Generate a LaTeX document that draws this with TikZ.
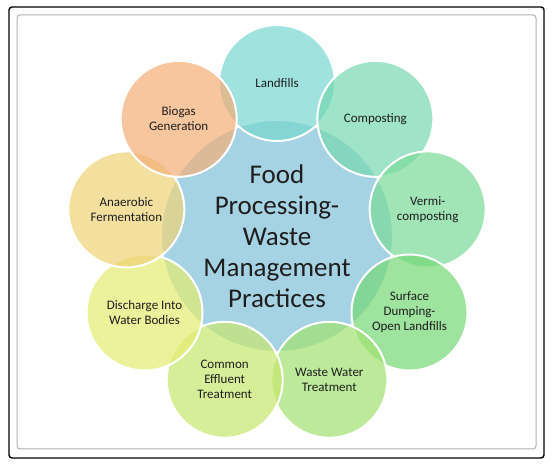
\documentclass[tikz,border=0pt]{standalone}
\usepackage{fontspec}
\setmainfont{Carlito}
\definecolor{hubfill}{RGB}{166,211,227}
\definecolor{landfillfill}{RGB}{119,214,208}
\definecolor{compostfill}{RGB}{119,216,177}
\definecolor{vermifill}{RGB}{122,219,153}
\definecolor{surfacefill}{RGB}{117,216,117}
\definecolor{wastewaterfill}{RGB}{162,226,112}
\definecolor{effluentfill}{RGB}{199,231,111}
\definecolor{dischargefill}{RGB}{228,236,113}
\definecolor{anaerobicfill}{RGB}{239,211,119}
\definecolor{biogasfill}{RGB}{244,174,119}
\definecolor{labeltext}{RGB}{30,30,30}

\begin{document}
\begin{tikzpicture}[x=1pt,y=1pt]
\tikzstyle{outer frame} = [draw, color=black, line width=1.4pt, rounded corners=3pt]
\tikzstyle{inner frame} = [draw, color=black!30, line width=1pt, rounded corners=3pt]
\tikzstyle{hub circle} = [circle, draw=white, line width=2pt, fill=hubfill, minimum size=232pt, inner sep=0pt,
  text=labeltext, align=center, font=\fontsize{27}{31}\selectfont]
\tikzstyle{practice circle} = [circle, draw=white, line width=2pt, fill opacity=0.7, text opacity=1, minimum size=116pt,
  inner sep=0pt, text=labeltext, align=center, font=\fontsize{13}{15}\selectfont]
\useasboundingbox (0,0) rectangle (554,468);
\fill[white] (0,0) rectangle (554,468);
\path[outer frame] (9,10) rectangle (544,461);
\path[inner frame] (17,19) rectangle (536,453);
\coordinate (c_0) at (277.00, 232.00);
\coordinate (c_1) at (277.00, 385.00);
\coordinate (c_2) at (375.35, 349.20);
\coordinate (c_3) at (427.68, 258.57);
\coordinate (c_4) at (409.50, 155.50);
\coordinate (c_5) at (329.33, 88.23);
\coordinate (c_6) at (224.67, 88.23);
\coordinate (c_7) at (144.50, 155.50);
\coordinate (c_8) at (126.32, 258.57);
\coordinate (c_9) at (178.65, 349.20);
\node[hub circle] (v_0) at (c_0) {Food\\Processing-\\Waste\\Management\\Practices};
\node[practice circle, fill=landfillfill] (v_1) at (c_1) {Landfills};
\node[practice circle, fill=compostfill] (v_2) at (c_2) {Composting};
\node[practice circle, fill=vermifill] (v_3) at (c_3) {Vermi-\\composting};
\node[practice circle, fill=surfacefill] (v_4) at (c_4) {Surface\\Dumping-\\Open Landfills};
\node[practice circle, fill=wastewaterfill] (v_5) at (c_5) {Waste Water\\Treatment};
\node[practice circle, fill=effluentfill] (v_6) at (c_6) {Common\\Effluent\\Treatment};
\node[practice circle, fill=dischargefill] (v_7) at (c_7) {Discharge Into\\Water Bodies};
\node[practice circle, fill=anaerobicfill] (v_8) at (c_8) {Anaerobic\\Fermentation};
\node[practice circle, fill=biogasfill] (v_9) at (c_9) {Biogas\\Generation};
\end{tikzpicture}
\end{document}
